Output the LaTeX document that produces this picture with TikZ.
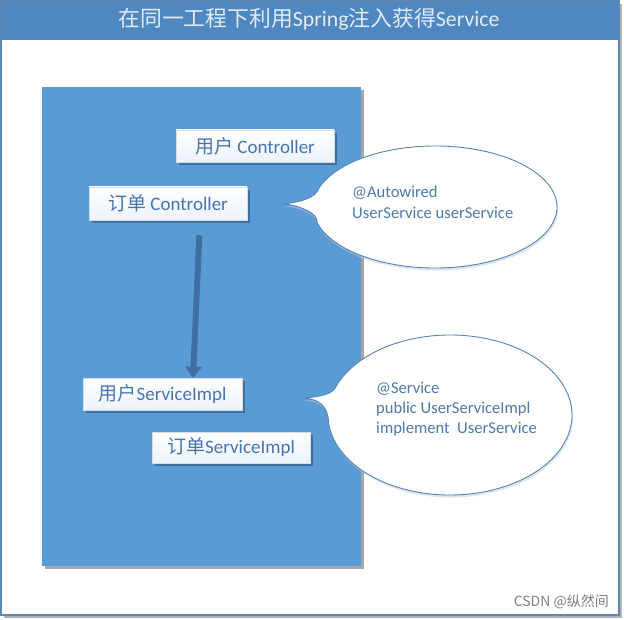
\documentclass[tikz,border=0pt]{standalone}
\usepackage{fontspec}
\setmainfont{Carlito}
\newfontfamily\cjk{Noto Sans CJK SC}
\usetikzlibrary{arrows.meta,shadows}
\definecolor{titlebar}{HTML}{4F87C0}
\definecolor{framec}{HTML}{5A87B6}
\definecolor{panel}{HTML}{5B9BD5}
\definecolor{boxtext}{HTML}{4874AD}
\definecolor{calltext}{HTML}{4F79A8}
\definecolor{callline}{HTML}{5584B4}
\definecolor{arrowc}{HTML}{3D6FA0}
\definecolor{titletext}{HTML}{E2EBF5}
\tikzset{
  compbox/.style={rectangle, draw=white!75!boxtext, line width=0.5pt,
    top color=white, bottom color=white!88!panel,
    text=boxtext, font=\fontsize{19}{22}\selectfont, inner sep=0pt,
    drop shadow={shadow xshift=2.5pt, shadow yshift=-3pt, fill=arrowc!70!black, opacity=0.55}},
  calltxt/.style={anchor=west, align=left, text=calltext, inner sep=0pt},
  bubble/.style={fill=white, draw=callline, line width=0.9pt,
    drop shadow={shadow xshift=1pt, shadow yshift=-2.5pt, fill=callline!40, opacity=0.5}},
}
\begin{document}
\begin{tikzpicture}[x=1pt,y=-1pt]
\useasboundingbox (0,0) rectangle (624,620);
% outer frame
\fill[black!30] (4,4) rectangle (622,618);
\fill[white] (1,1) rectangle (619,615);
\fill[titlebar] (1,1) rectangle (619,40);
\draw[framec, line width=2pt] (1,1) rectangle (619,615);
\node[text=titletext, font=\fontsize{21.8}{24}\selectfont, inner sep=0pt] (title) at (309,19)
  {{\cjk 在同一工程下利用}Spring{\cjk 注入获得}Service};
% panel
\fill[black!35] (45,90) rectangle (364,569);
\fill[panel] (42,87) rectangle (361,566);
% boxes
\node[compbox, minimum width=158pt, minimum height=32pt] (uc) at (255,146) {{\cjk 用户} Controller};
\node[compbox, minimum width=158pt, minimum height=33pt] (oc) at (168,203.5) {{\cjk 订单} Controller};
\node[compbox, minimum width=159pt, minimum height=32pt] (us) at (162.5,394) {{\cjk 用户}ServiceImpl};
\node[compbox, minimum width=158pt, minimum height=31pt] (os) at (231,447.5) {{\cjk 订单}ServiceImpl};
% arrow
\draw[arrowc, line width=6pt, shorten <=15pt, -{Triangle[width=16pt,length=11pt]}]
  ([xshift=32pt]oc.south) -- ([xshift=30.5pt]us.north);
% callout 1
\path[bubble] (435,207) ++(197:122 and 61) arc[start angle=197, end angle=525, x radius=122, y radius=61]
  .. controls (319,214) and (300,205) .. (283,204)
  .. controls (302,202) and (316,197) .. cycle;
\node[calltxt, font=\fontsize{16.6}{21}\selectfont] (ct1) at (352,202.5) {@Autowired\\UserService userService};
% callout 2
\path[bubble] (450,415) ++(200:122 and 80) arc[start angle=200, end angle=535, x radius=122, y radius=80]
  .. controls (328,405) and (318,399) .. (303,398)
  .. controls (320,397) and (332,394) .. cycle;
\node[calltxt, font=\fontsize{16.6}{20}\selectfont] (ct2) at (376,409) {@Service\\public UserServiceImpl\\implement\ \ UserService};
% watermark
\node[anchor=east, text=black!50, font=\cjk\fontsize{14}{16}\selectfont, inner sep=0pt] (wm) at (609,602) {CSDN @纵然间};
\end{tikzpicture}
\end{document}
